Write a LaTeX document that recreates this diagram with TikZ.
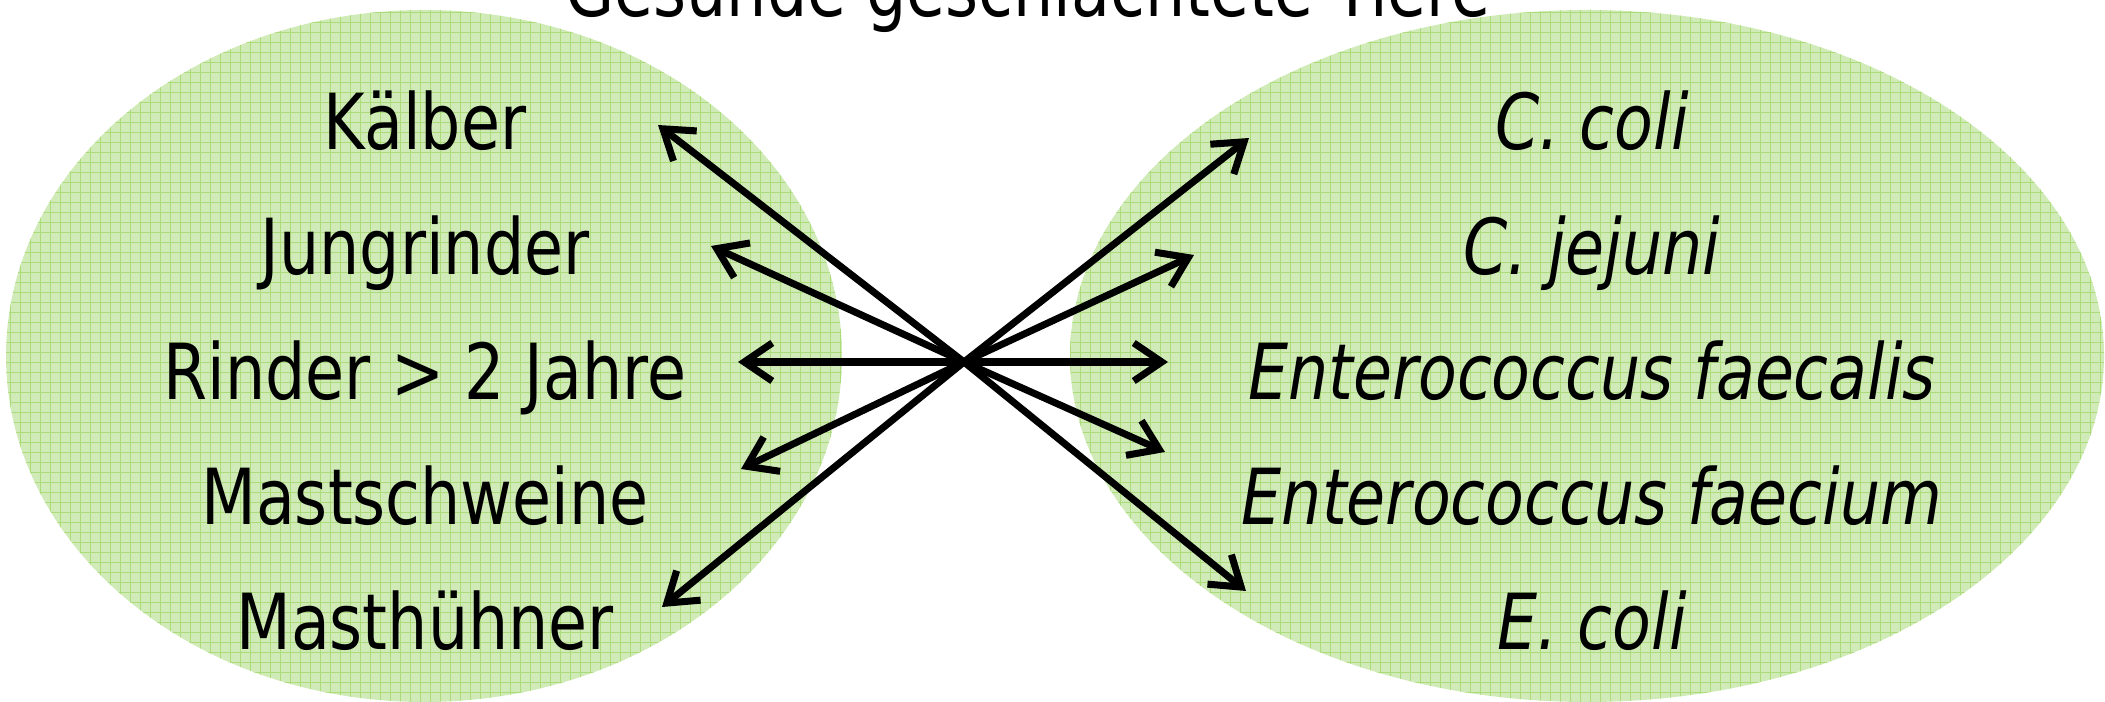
\documentclass[tikz,border=0pt]{standalone}
\usepackage{fontspec}
\setmainfont{DejaVu Sans}[FakeStretch=0.82]
\usetikzlibrary{arrows.meta}
\definecolor{blobfill}{RGB}{208,235,183}
\definecolor{blobgrid}{RGB}{172,220,122}

\begin{document}
\begin{tikzpicture}[
    lab/.style={font=\fontsize{22}{26}\selectfont, inner sep=0pt, anchor=base},
    spec/.style={lab, font=\fontsize{22}{26}\selectfont\itshape},
    pfeil/.style={-{Straight Barb[length=2.8mm,width=3.8mm]}, line width=2pt, line cap=round, line join=round}]
    \useasboundingbox (0,0) rectangle (21.05,7.02);
    \foreach \cx/\rx in {4.24/4.18, 15.87/5.17}{
      \begin{scope}
        \fill[blobfill] (\cx,3.46) ellipse ({\rx} and 3.46);
        \clip (\cx,3.46) ellipse ({\rx} and 3.46);
        \draw[blobgrid, line width=0.25pt, step=0.1] (\cx-\rx,0) grid (\cx+\rx,7.02);
      \end{scope}}
    \node[lab] (titel) at (10.28,6.85) {Gesunde geschlachtete Tiere};
    \node[lab] (kalb) at (4.25,5.52) {Kälber};
    \node[lab] (jung) at (4.25,4.27) {Jungrinder};
    \node[lab] (rind) at (4.25,3.02) {Rinder > 2 Jahre};
    \node[lab] (schw) at (4.25,1.77) {Mastschweine};
    \node[lab] (huhn) at (4.25,0.52) {Masthühner};
    \node[spec] (ccoli) at (15.92,5.52) {C. coli};
    \node[spec] (cjej) at (15.92,4.27) {C. jejuni};
    \node[spec] (fcls) at (15.92,3.02) {Enterococcus faecalis};
    \node[spec] (fcum) at (15.92,1.77) {Enterococcus faecium};
    \node[spec] (ecoli) at (15.92,0.52) {E. coli};
    \coordinate (hub) at (9.64,3.40);
    \coordinate (p1) at (6.58,5.77);
    \coordinate (p2) at (7.11,4.56);
    \coordinate (p3) at (7.38,3.40);
    \coordinate (p4) at (7.41,2.33);
    \coordinate (p5) at (6.62,0.95);
    \coordinate (q1) at (12.49,5.64);
    \coordinate (q2) at (11.94,4.47);
    \coordinate (q3) at (11.68,3.40);
    \coordinate (q4) at (11.65,2.50);
    \coordinate (q5) at (12.46,1.11);
    \foreach \i in {1,...,5}{
      \draw[pfeil] (hub)--(p\i);
      \draw[pfeil] (hub)--(q\i);}
\end{tikzpicture}
\end{document}
